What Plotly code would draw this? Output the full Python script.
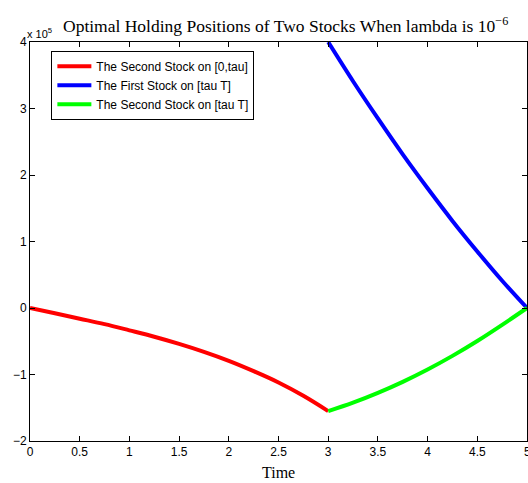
import plotly.graph_objects as go

# Time points and holdings (in units of 10^5)
t_red = [0, 0.25, 0.5, 0.75, 1.0, 1.25, 1.5, 1.75, 2.0, 2.25, 2.5, 2.75, 3.0]
y_red = [0, -0.08, -0.161, -0.243, -0.336, -0.432, -0.54, -0.66, -0.795, -0.95, -1.12, -1.32, -1.55]

t_blue = [3.0, 3.25, 3.5, 3.75, 4.0, 4.25, 4.5, 4.75, 5.0]
y_blue = [4.0, 3.41, 2.85, 2.31, 1.80, 1.31, 0.85, 0.41, 0.0]

t_green = [3.0, 3.25, 3.5, 3.75, 4.0, 4.25, 4.5, 4.75, 5.0]
y_green = [-1.55, -1.423, -1.276, -1.11, -0.925, -0.72, -0.496, -0.253, 0.0]

names = ["The Second Stock on [0,tau]", "The First Stock on [tau T]", "The Second Stock on [tau T]"]
colors = ["#ff0000", "#0000ff", "#00ff00"]

x_ticks = [0, 0.5, 1, 1.5, 2, 2.5, 3, 3.5, 4, 4.5, 5]
x_ticktext = ["0", "0.5", "1", "1.5", "2", "2.5", "3", "3.5", "4", "4.5", "5"]
y_ticks = [-2, -1, 0, 1, 2, 3, 4]

fig = go.Figure()
for tx, ty, nm, c in [(t_red, y_red, names[0], colors[0]),
                      (t_blue, y_blue, names[1], colors[1]),
                      (t_green, y_green, names[2], colors[2])]:
    fig.add_trace(go.Scatter(x=tx, y=ty, mode="lines", name=nm,
                             line=dict(color=c, width=4, shape="spline")))

axis_common = dict(showgrid=False, zeroline=False, showline=True, linecolor="black",
                   linewidth=1, mirror="ticks", ticks="inside", ticklen=5,
                   tickcolor="black", tickfont=dict(family="Liberation Sans, Arial", size=12, color="black"))

fig.update_layout(
    width=528, height=483,
    margin=dict(l=30, r=1, t=42, b=42),
    paper_bgcolor="white", plot_bgcolor="white",
    showlegend=True,
    legend=dict(x=0.043, y=0.978, xanchor="left", yanchor="top",
                bordercolor="black", borderwidth=1, bgcolor="white",
                font=dict(family="Liberation Sans, Arial", size=12, color="black"),
                tracegroupgap=0, itemwidth=34),
    xaxis=dict(range=[0, 5], tickvals=x_ticks, ticktext=x_ticktext, **axis_common),
    yaxis=dict(range=[-2, 4], tickvals=y_ticks, **axis_common),
)

fig.add_annotation(text="Optimal Holding Positions of Two Stocks When lambda is 10<sup>−6</sup>",
                   xref="paper", yref="paper", x=0.515, y=1.0, yshift=4,
                   xanchor="center", yanchor="bottom", showarrow=False,
                   font=dict(family="Liberation Serif, Times New Roman", size=17.5, color="black"))
fig.add_annotation(text="x 10<sup>5</sup>", xref="paper", yref="paper", x=0.0, y=1.0,
                   xanchor="left", yanchor="bottom", showarrow=False, xshift=-5, yshift=0,
                   font=dict(family="Liberation Sans, Arial", size=11, color="black"))
fig.add_annotation(text="Time", xref="paper", yref="paper", x=0.5, y=0.0, yshift=-21,
                   xanchor="center", yanchor="top", showarrow=False,
                   font=dict(family="Liberation Serif, Times New Roman", size=16, color="black"))
# last x tick label, partly cut by the page edge as in the reference
fig.add_annotation(text=x_ticktext[-1], xref="x", yref="paper", x=x_ticks[-1], y=0.0, yshift=-2,
                   xanchor="center", yanchor="top", showarrow=False,
                   font=dict(family="Liberation Sans, Arial", size=12, color="black"))

fig.write_html("out.html", config={"displayModeBar": False},
               post_script="document.body.style.margin='0';document.body.style.overflow='hidden';")
